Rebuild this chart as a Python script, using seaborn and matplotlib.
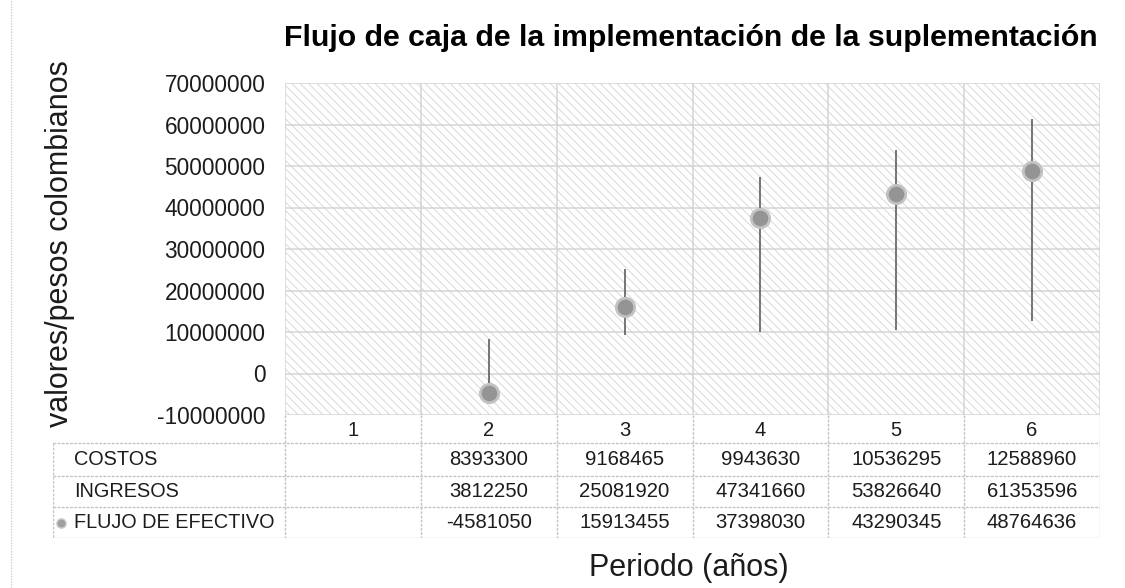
import numpy as np
import pandas as pd
import matplotlib.pyplot as plt
import seaborn as sns
from matplotlib.patches import Rectangle
from matplotlib.lines import Line2D

# data
periodos = [1, 2, 3, 4, 5, 6]
costos = [np.nan, 8393300, 9168465, 9943630, 10536295, 12588960]
ingresos = [np.nan, 3812250, 25081920, 47341660, 53826640, 61353596]
flujo = [np.nan, -4581050, 15913455, 37398030, 43290345, 48764636]
filas = ['COSTOS', 'INGRESOS', 'FLUJO DE EFECTIVO']
y_ticks = list(range(-10000000, 70000001, 10000000))

df = pd.DataFrame({'periodo': periodos, 'costos': costos,
                   'ingresos': ingresos, 'flujo': flujo})
df['x'] = np.arange(len(df)) + 0.5   # centre of each category column
df['low'] = df[['costos', 'ingresos', 'flujo']].min(axis=1)
df['high'] = df[['costos', 'ingresos', 'flujo']].max(axis=1)

sns.set_style('white')
plt.rcParams['font.family'] = ['Liberation Sans', 'DejaVu Sans']
plt.rcParams['hatch.linewidth'] = 0.7
txt = '#1c1c1c'
plt.rcParams['text.color'] = txt
plt.rcParams['ytick.color'] = txt

W, H = 1125, 588
fig = plt.figure(figsize=(11.25, 5.88), dpi=100)

# plot area (pixel layout)
L, R, T, B = 285, 1100, 83, 415
ax = fig.add_axes([L / W, 1 - B / H, (R - L) / W, (B - T) / H])
ax.set_xlim(0, 6)
ax.set_ylim(y_ticks[0], y_ticks[-1])

# hatched background
ax.add_patch(Rectangle((0, y_ticks[0]), 6, y_ticks[-1] - y_ticks[0],
                       facecolor='white', edgecolor='#d9d9d9',
                       hatch='\\\\\\\\', lw=0, zorder=0))
grid_col = '#d4d4d4'
for yt in y_ticks:
    ax.axhline(yt, color=grid_col, lw=1.1, zorder=1)
for xv in range(7):
    ax.axvline(xv, color=grid_col, lw=1.1, zorder=1)

# high-low lines + cash flow markers
ax.vlines(df['x'], df['low'], df['high'], color='#5e5e5e', lw=1.2, zorder=2)
sns.scatterplot(data=df, x='x', y='flujo', s=175, color='#949494',
                edgecolor='#c2c2c2', linewidth=2, zorder=3, ax=ax, legend=False)

ax.set_yticks(y_ticks)
ax.set_yticklabels([str(v) for v in y_ticks], fontsize=16.3)
ax.set_xticks([])
ax.tick_params(axis='y', length=0, pad=14)
ax.set_xlabel('')
ax.set_ylabel('')
for s in ax.spines.values():
    s.set_visible(False)

# data table below the plot
TL, TB = 53, 538
col_w = (R - L) / 6
x0 = -(L - TL) / col_w
tax = fig.add_axes([TL / W, 1 - TB / H, (R - TL) / W, (TB - B) / H])
tax.set_xlim(x0, 6)
tax.set_ylim(TB, B)
tax.axis('off')

row_edges = [415, 443, 476, 507, 538]
tab_col = '#c4c4c4'
ls = (0, (2, 1))
for ye in row_edges[1:]:
    tax.hlines(ye, x0, 6, color=tab_col, lw=1, linestyle=ls)
tax.vlines(range(7), row_edges[0], row_edges[-1], color=tab_col, lw=1, linestyle=ls)
tax.vlines(x0, row_edges[1], row_edges[-1], color=tab_col, lw=1, linestyle=ls)

for i, p in enumerate(periodos):
    tax.text(i + 0.5, (row_edges[0] + row_edges[1]) / 2 + 1, str(p),
             ha='center', va='center', fontsize=14.5)

series = [costos, ingresos, flujo]
for r, (name, vals) in enumerate(zip(filas, series)):
    yc = (row_edges[r + 1] + row_edges[r + 2]) / 2
    tax.text(x0 + 21 / col_w, yc, name, ha='left', va='center', fontsize=14.3)
    for i, v in enumerate(vals):
        if not np.isnan(v):
            tax.text(i + 0.5, yc, f'{int(v)}', ha='center', va='center', fontsize=14.6)

# legend key for the marker series
yc = (row_edges[3] + row_edges[4]) / 2
tax.scatter([x0 + 8 / col_w], [yc], s=45, color='#a0a0a0',
            edgecolor='#cdcdcd', linewidth=1, clip_on=False)

# titles
fig.text(691 / W, 1 - 38 / H, 'Flujo de caja de la implementación de la suplementación',
         ha='center', va='center', fontsize=21.8, fontweight='bold', color='black')
fig.text(60 / W, 1 - 244 / H, 'valores/pesos colombianos', rotation=90,
         ha='center', va='center', fontsize=22)
fig.text(689 / W, 1 - 568 / H, 'Periodo (años)', ha='center', va='center', fontsize=22)

# outer chart border (left edge)
fig.add_artist(Line2D([11 / W, 11 / W], [0, 1], color='#d0d0d0', lw=1,
                      linestyle=(0, (1, 1))))

fig.savefig('out.png', dpi=100)
